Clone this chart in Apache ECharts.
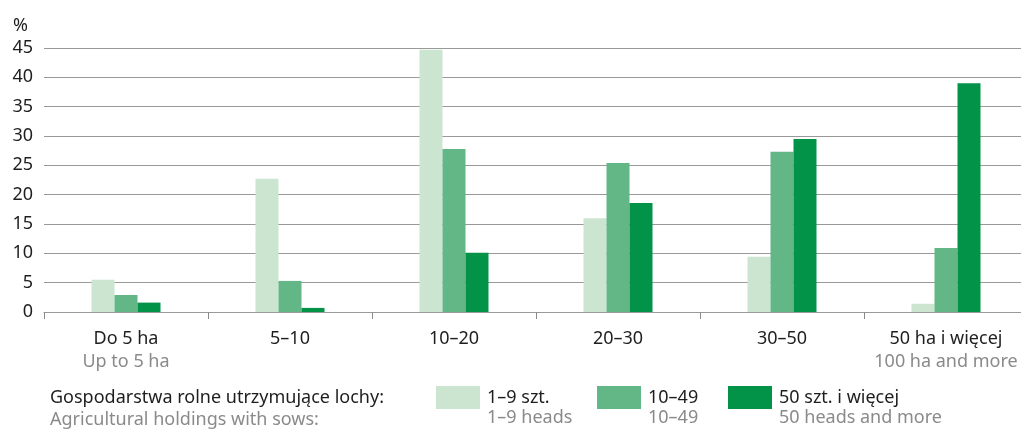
<!DOCTYPE html>
<html>
<head>
<meta charset="utf-8">
<script src="https://cdn.jsdelivr.net/npm/echarts@6/dist/echarts.min.js"></script>
<style>
  html, body { margin: 0; padding: 0; background: #fff; }
  #chart { width: 1021px; height: 432px; }
</style>
</head>
<body>
<div id="chart"></div>
<script>
// kategorie powierzchni
var categoriesPl = ['Do 5 ha', '5–10', '10–20', '20–30', '30–50', '50 ha i więcej'];
var categoriesEn = ['Up to 5 ha', '', '', '', '', '100 ha and more'];
// serie (%)
var sows1to9 = [5.5, 22.7, 44.7, 16.0, 9.4, 1.4];
var sows10to49 = [2.9, 5.3, 27.8, 25.4, 27.3, 10.9];
var sows50plus = [1.6, 0.7, 10.1, 18.6, 29.5, 39.0];
var seriesNames = ['1–9 szt.', '10–49', '50 szt. i więcej'];
var seriesNamesEn = ['1–9 heads', '10–49', '50 heads and more'];
var colors = ['#cbe5d0', '#63b685', '#039348'];

var font = 'Noto Sans';
var dark = '#1e1e1e';
var grey = '#8a8a8a';
var legendLeft = [436, 597, 728];

var myChart = echarts.init(document.getElementById('chart'));

function legendFor(i) {
  return {
    data: [seriesNames[i]],
    left: legendLeft[i],
    top: 386,
    itemWidth: 44,
    itemHeight: 23,
    itemGap: 0,
    padding: 0,
    icon: 'rect',
    textStyle: { fontFamily: font, fontSize: 18, color: dark, padding: [0, 0, 0, 2] }
  };
}

// angielskie podpisy legendy (druga linia)
var legendEn = seriesNamesEn.map(function (t, i) {
  return {
    type: 'text',
    left: legendLeft[i] + 51,
    top: 409,
    style: { text: t, fontFamily: font, fontSize: 18, fill: grey }
  };
});

var option = {
  animation: false,
  textStyle: { fontFamily: font },
  title: {
    left: 50,
    top: 387,
    padding: 0,
    itemGap: 0,
    text: 'Gospodarstwa rolne utrzymujące lochy:',
    subtext: 'Agricultural holdings with sows:',
    textStyle: { fontFamily: font, fontSize: 18, fontWeight: 'normal', color: dark, lineHeight: 22 },
    subtextStyle: { fontFamily: font, fontSize: 18, color: grey, lineHeight: 22 }
  },
  legend: [legendFor(0), legendFor(1), legendFor(2)],
  graphic: legendEn,
  grid: { left: 44, width: 984, top: 48, bottom: 120, containLabel: false, outerBoundsMode: 'none' },
  xAxis: {
    type: 'category',
    data: categoriesPl,
    axisLine: { lineStyle: { color: '#9a9a9a', width: 1 } },
    axisTick: { show: true, length: 7, lineStyle: { color: '#8a8a8a' } },
    axisLabel: {
      interval: 0,
      margin: 15,
      formatter: function (v, idx) {
        var en = categoriesEn[idx];
        return en ? '{a|' + v + '}\n{b|' + en + '}' : '{a|' + v + '}';
      },
      rich: {
        a: { fontFamily: font, fontSize: 18, color: dark, lineHeight: 23 },
        b: { fontFamily: font, fontSize: 18, color: grey, lineHeight: 23 }
      }
    }
  },
  yAxis: {
    type: 'value',
    min: 0,
    max: 45,
    interval: 5,
    name: '%',
    nameGap: 13,
    nameTextStyle: { fontFamily: font, fontSize: 18, color: dark, align: 'right', padding: [0, 16, 0, 0] },
    axisLine: { show: false },
    axisTick: { show: false },
    axisLabel: { fontFamily: font, fontSize: 18, color: dark, margin: 11 },
    splitLine: { lineStyle: { color: '#999999', width: 1 } }
  },
  series: [
    { name: seriesNames[0], type: 'bar', data: sows1to9, barWidth: 23, barGap: '0%', itemStyle: { color: colors[0] } },
    { name: seriesNames[1], type: 'bar', data: sows10to49, barWidth: 23, barGap: '0%', itemStyle: { color: colors[1] } },
    { name: seriesNames[2], type: 'bar', data: sows50plus, barWidth: 23, barGap: '0%', itemStyle: { color: colors[2] } }
  ]
};
myChart.setOption(option);
</script>
</body>
</html>
